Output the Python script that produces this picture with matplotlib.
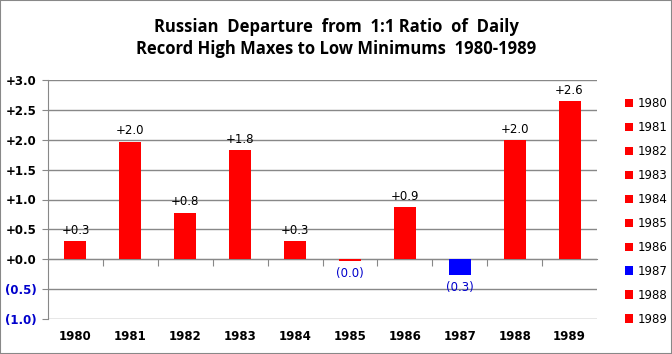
import matplotlib.pyplot as plt
from matplotlib.patches import Patch
from matplotlib.transforms import blended_transform_factory

# data
years = ["1980", "1981", "1982", "1983", "1984", "1985", "1986", "1987", "1988", "1989"]
departure = [0.31, 1.97, 0.78, 1.83, 0.31, -0.03, 0.88, -0.27, 2.00, 2.65]
bar_colors = ["#ff0000"] * 7 + ["#0000ff"] + ["#ff0000"] * 2
value_labels = ["+0.3", "+2.0", "+0.8", "+1.8", "+0.3", "(0.0)", "+0.9", "(0.3)", "+2.0", "+2.6"]
yticks = [-1.0, -0.5, 0.0, 0.5, 1.0, 1.5, 2.0, 2.5, 3.0]
ytick_labels = ["(1.0)", "(0.5)", "+0.0", "+0.5", "+1.0", "+1.5", "+2.0", "+2.5", "+3.0"]

grid_color = "#888888"
neg_color = "#0000cc"
fs = 8.5

fig = plt.figure(figsize=(6.72, 3.54), dpi=100)
ax = fig.add_axes([48 / 672, 1 - 319 / 354, 549 / 672, 239 / 354])

x = range(len(years))
ax.bar(x, departure, width=0.4, color=bar_colors, zorder=3)

ax.set_xlim(-0.5, len(years) - 0.5)
ax.set_ylim(-1.0, 3.0)
ax.set_yticks(yticks)
ax.set_yticklabels(ytick_labels)
for lab, v in zip(ax.get_yticklabels(), yticks):
    lab.set_fontweight("bold")
    lab.set_fontsize(fs)
    lab.set_color(neg_color if v < 0 else "black")
ax.tick_params(axis="y", length=4, color=grid_color, pad=4)
ax.grid(axis="y", color=grid_color, linewidth=1, zorder=1)

# zero line as category axis, ticks between categories
for s in ["top", "right"]:
    ax.spines[s].set_visible(False)
ax.spines["left"].set_color(grid_color)
ax.spines["bottom"].set_position(("data", 0))
ax.spines["bottom"].set_color(grid_color)
ax.set_xticks([i + 0.5 for i in range(len(years) - 1)])
ax.set_xticklabels([])
ax.tick_params(axis="x", length=5, color=grid_color, direction="out")

trans = blended_transform_factory(ax.transData, ax.transAxes)
for i, yr in enumerate(years):
    ax.text(i, -0.045, yr, transform=trans, ha="center", va="top",
            fontsize=fs, fontweight="bold")

for i, (v, lab) in enumerate(zip(departure, value_labels)):
    if v >= 0:
        ax.annotate(lab, (i, v), xytext=(0, 3), textcoords="offset points",
                    ha="center", va="bottom", fontsize=fs)
    else:
        ax.annotate(lab, (i, v), xytext=(0, -4), textcoords="offset points",
                    ha="center", va="top", fontsize=fs, color=neg_color)

handles = [Patch(facecolor=c, edgecolor="none") for c in bar_colors]
fig.legend(handles, years, loc="upper left", bbox_to_anchor=(619 / 672, 1 - 91 / 354),
           frameon=False, fontsize=fs, handlelength=0.7, handleheight=0.7,
           handletextpad=0.35, labelspacing=0.93, borderpad=0)

fig.text(0.5, 1 - 27 / 354, "Russian  Departure  from  1:1 Ratio  of  Daily",
         ha="center", va="center", fontsize=12, fontweight="bold", family="Open Sans")
fig.text(0.5, 1 - 49 / 354, "Record High Maxes to Low Minimums  1980-1989",
         ha="center", va="center", fontsize=12, fontweight="bold", family="Open Sans")

# outer frame
fig.patches.append(plt.Rectangle((0, 0), 1, 1, transform=fig.transFigure, fill=False,
                                 edgecolor="#888888", linewidth=1.5))

fig.savefig("out.png", dpi=100)
